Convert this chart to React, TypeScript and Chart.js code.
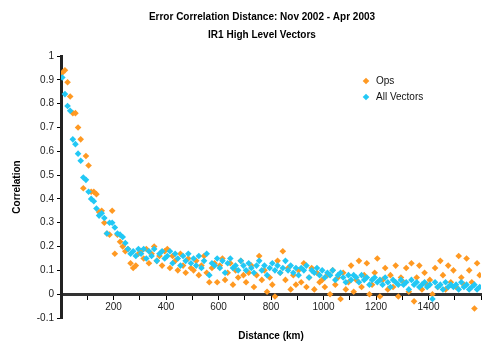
import React, { useEffect, useRef } from 'react';
import { Chart, registerables } from 'chart.js';

Chart.register(...registerables);

const TITLE_LINES = ['Error Correlation Distance: Nov 2002 - Apr 2003', 'IR1 High Level Vectors'];
const SERIES_NAMES = ['Ops', 'All Vectors'];
const X_AXIS_TITLE = 'Distance (km)';
const Y_AXIS_TITLE = 'Correlation';
const X_LABELED_TICKS = [200, 400, 600, 800, 1000, 1200, 1400];

const DISTANCE_KM = [
  5, 15, 25, 35, 45, 55, 65, 75, 85, 95,
  105, 115, 125, 135, 145, 155, 165, 175, 185, 195,
  205, 215, 225, 235, 245, 255, 265, 275, 285, 295,
  305, 315, 325, 335, 345, 355, 365, 375, 385, 395,
  405, 415, 425, 435, 445, 455, 465, 475, 485, 495,
  505, 515, 525, 535, 545, 555, 565, 575, 585, 595,
  605, 615, 625, 635, 645, 655, 665, 675, 685, 695,
  705, 715, 725, 735, 745, 755, 765, 775, 785, 795,
  805, 815, 825, 835, 845, 855, 865, 875, 885, 895,
  905, 915, 925, 935, 945, 955, 965, 975, 985, 995,
  1005, 1015, 1025, 1035, 1045, 1055, 1065, 1075, 1085, 1095,
  1105, 1115, 1125, 1135, 1145, 1155, 1165, 1175, 1185, 1195,
  1205, 1215, 1225, 1235, 1245, 1255, 1265, 1275, 1285, 1295,
  1305, 1315, 1325, 1335, 1345, 1355, 1365, 1375, 1385, 1395,
  1405, 1415, 1425, 1435, 1445, 1455, 1465, 1475, 1485, 1495,
  1505, 1515, 1525, 1535, 1545, 1555, 1565, 1575, 1585, 1595,
];

const OPS = [
  0.93, 0.94, 0.89, 0.83, 0.76, 0.76, 0.70, 0.65, 0.445, 0.58,
  0.54, 0.43, 0.43, 0.42, 0.345, 0.35, 0.30, 0.255, 0.25, 0.35,
  0.17, 0.25, 0.22, 0.20, 0.18, 0.19, 0.13, 0.11, 0.12, 0.17,
  0.18, 0.15, 0.19, 0.13, 0.17, 0.20, 0.14, 0.16, 0.12, 0.18,
  0.19, 0.11, 0.16, 0.14, 0.10, 0.17, 0.12, 0.09, 0.15, 0.11,
  0.10, 0.14, 0.08, 0.12, 0.16, 0.09, 0.05, 0.11, 0.13, 0.05,
  0.12, 0.15, 0.06, 0.09, 0.13, 0.04, 0.10, 0.07, 0.14, 0.08,
  0.05, 0.09, 0.12, 0.03, 0.08, 0.16, 0.06, 0.10, 0.01, 0.07,
  0.04, -0.01, 0.14, 0.09, 0.18, 0.06, 0.11, 0.02, 0.08, 0.04,
  0.10, 0.05, 0.13, 0.03, 0.07, 0.11, 0.02, 0.09, 0.05, 0.06,
  0.03, 0.08, 0.00, 0.10, 0.04, 0.07, -0.02, 0.09, 0.02, 0.05,
  0.12, 0.01, 0.06, 0.14, 0.03, 0.08, 0.13, 0.00, 0.04, 0.09,
  0.15, -0.01, 0.06, 0.11, 0.02, 0.08, 0.03, 0.12, -0.01, 0.07,
  0.05, 0.11, 0.01, 0.13, -0.03, 0.07, 0.12, 0.02, 0.09, 0.04,
  0.06, 0.00, 0.11, 0.03, 0.14, 0.08, 0.02, 0.12, 0.05, 0.10,
  0.03, 0.16, 0.07, 0.04, 0.15, 0.10, 0.05, -0.06, 0.13, 0.08,
];

const ALL_VECTORS = [
  0.91, 0.84, 0.79, 0.77, 0.65, 0.63, 0.59, 0.56, 0.49, 0.48,
  0.43, 0.40, 0.39, 0.36, 0.33, 0.34, 0.32, 0.255, 0.30, 0.30,
  0.28, 0.255, 0.25, 0.24, 0.215, 0.19, 0.17, 0.18, 0.16, 0.19,
  0.17, 0.19, 0.15, 0.18, 0.16, 0.19, 0.14, 0.17, 0.18, 0.15,
  0.16, 0.18, 0.13, 0.17, 0.15, 0.12, 0.16, 0.14, 0.17, 0.13,
  0.15, 0.12, 0.16, 0.11, 0.14, 0.17, 0.08, 0.13, 0.12, 0.15,
  0.11, 0.14, 0.09, 0.13, 0.15, 0.11, 0.12, 0.10, 0.14, 0.12,
  0.10, 0.13, 0.11, 0.09, 0.12, 0.14, 0.10, 0.12, 0.08, 0.11,
  0.13, 0.10, 0.12, 0.09, 0.11, 0.14, 0.10, 0.12, 0.09, 0.11,
  0.08, 0.11, 0.10, 0.12, 0.07, 0.10, 0.09, 0.11, 0.08, 0.10,
  0.07, 0.09, 0.08, 0.10, 0.06, 0.08, 0.09, 0.07, 0.05, 0.08,
  0.06, 0.08, 0.07, 0.05, 0.08, 0.06, 0.07, 0.04, 0.06, 0.07,
  0.05, 0.06, 0.04, 0.07, 0.05, 0.03, 0.06, 0.05, 0.04, 0.06,
  0.04, 0.05, 0.02, 0.06, 0.04, 0.05, 0.03, 0.04, 0.05, 0.03,
  0.04, -0.02, 0.05, 0.03, 0.04, 0.02, 0.05, 0.03, 0.04, 0.03,
  0.04, 0.02, 0.05, 0.03, 0.04, 0.02, 0.03, 0.04, 0.02, 0.03,
];

const COLORS = ['#FF9922', '#22C8F5'];
const FONT = '"Liberation Sans", Arial, sans-serif';

const overlayPlugin = {
  id: 'overlayText',
  afterDraw(chart: any) {
    const ctx = chart.ctx;
    ctx.save();
    ctx.fillStyle = '#000';
    ctx.textBaseline = 'middle';
    ctx.textAlign = 'center';
    ctx.font = `bold 10px ${FONT}`;
    ctx.fillText(TITLE_LINES[0], 262, 17);
    ctx.fillText(TITLE_LINES[1], 262, 35);

    // legend
    const lx = 366;
    const ly = [81, 97];
    ctx.font = `10px ${FONT}`;
    ctx.textAlign = 'left';
    SERIES_NAMES.forEach((name, i) => {
      ctx.fillStyle = COLORS[i];
      ctx.beginPath();
      ctx.moveTo(lx, ly[i] - 3.3);
      ctx.lineTo(lx + 3.3, ly[i]);
      ctx.lineTo(lx, ly[i] + 3.3);
      ctx.lineTo(lx - 3.3, ly[i]);
      ctx.closePath();
      ctx.fill();
      ctx.fillStyle = '#111';
      ctx.fillText(name, lx + 10, ly[i]);
    });
    ctx.restore();
  },
};

export default function App() {
  const ref = useRef<HTMLCanvasElement | null>(null);

  useEffect(() => {
    if (!ref.current) return;
    const toPoints = (ys: number[]) => ys.map((y, i) => ({ x: DISTANCE_KM[i], y }));
    const chart = new Chart(ref.current, {
      type: 'scatter',
      data: {
        datasets: [
          {
            label: SERIES_NAMES[0],
            data: toPoints(OPS),
            backgroundColor: COLORS[0],
            borderWidth: 0,
            pointStyle: 'rectRot',
            pointRadius: 3.3,
            order: 1,
          },
          {
            label: SERIES_NAMES[1],
            data: toPoints(ALL_VECTORS),
            backgroundColor: COLORS[1],
            borderWidth: 0,
            pointStyle: 'rectRot',
            pointRadius: 3.3,
            order: 0,
          },
        ],
      },
      options: {
        responsive: false,
        animation: false,
        layout: { padding: { left: 0, top: 56, right: 4, bottom: 27 } },
        plugins: {
          legend: { display: false },
          title: { display: false },
          tooltip: { enabled: false },
        },
        scales: {
          x: {
            type: 'linear',
            position: { y: 0 } as any,
            min: 0,
            max: 1600,
            grid: { drawOnChartArea: false, tickLength: 4, tickColor: '#000', tickWidth: 1 },
            border: { color: '#333', width: 3 },
            ticks: {
              stepSize: 100,
              autoSkip: false,
              maxRotation: 0,
              padding: 3,
              color: '#222',
              font: { family: FONT, size: 10 },
              callback: (v: any) => (X_LABELED_TICKS.includes(Number(v)) ? String(v) : ''),
            },
            title: {
              display: true,
              text: X_AXIS_TITLE,
              color: '#000',
              font: { family: FONT, size: 10, weight: 'bold' },
              padding: { top: 14, bottom: 0 },
            },
          },
          y: {
            type: 'linear',
            min: -0.1,
            max: 1,
            afterFit: (scale: any) => {
              scale.width = 61;
            },
            grid: { drawOnChartArea: false, tickLength: 4, tickColor: '#000', tickWidth: 1 },
            border: { color: '#222', width: 3 },
            ticks: {
              stepSize: 0.1,
              padding: 3,
              color: '#222',
              font: { family: FONT, size: 10 },
              callback: (v: any) => String(Number(Number(v).toFixed(1))),
            },
            title: {
              display: true,
              text: Y_AXIS_TITLE,
              color: '#000',
              font: { family: FONT, size: 10, weight: 'bold' },
              padding: { top: 11, bottom: 0 },
            },
          },
        },
      },
      plugins: [overlayPlugin],
    });
    return () => chart.destroy();
  }, []);

  return (
    <div style={{ position: 'absolute', left: 0, top: 0, width: 485, height: 345, background: '#fff' }}>
      <canvas ref={ref} width={485} height={345} style={{ display: 'block' }} />
    </div>
  );
}
